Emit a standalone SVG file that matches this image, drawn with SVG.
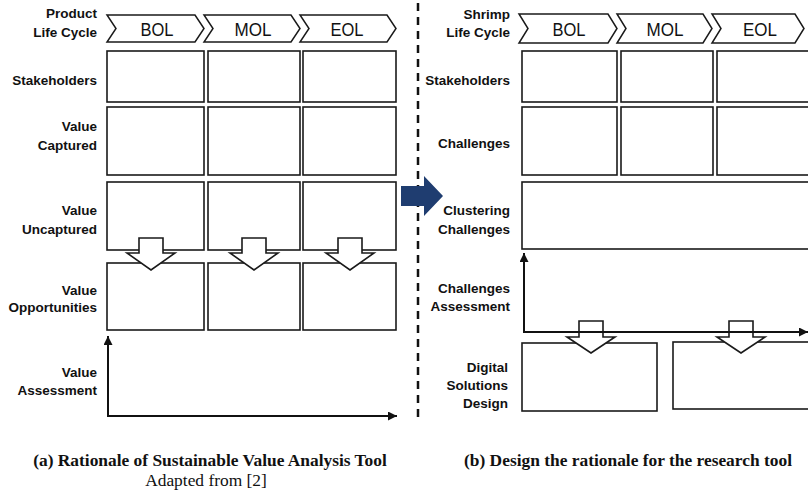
<svg xmlns="http://www.w3.org/2000/svg" width="808" height="494" viewBox="0 0 808 494">
<defs>
<style>
.bg{fill:#ffffff}
.box{fill:#ffffff;stroke:#1a1a1a;stroke-width:1.6}
.chev{fill:#ffffff;stroke:#1a1a1a;stroke-width:1.5;stroke-linejoin:miter}
.lbl{font-family:"Liberation Sans",Arial,sans-serif;font-weight:bold;font-size:13.5px;fill:#111;text-anchor:end}
.ct{font-family:"Liberation Sans",Arial,sans-serif;font-size:18.5px;fill:#111;text-anchor:middle}
.cap{font-family:"Liberation Serif","Times New Roman",serif;font-size:17.4px;fill:#111;text-anchor:middle}
.axis{stroke:#111;stroke-width:2;fill:none}
.blk{fill:#ffffff;stroke:#1a1a1a;stroke-width:1.6;stroke-linejoin:miter}
.dash{stroke:#111;stroke-width:2.5;stroke-dasharray:8 6;fill:none}
</style>
<marker id="ah" viewBox="0 0 10 10" refX="10" refY="5" markerWidth="10" markerHeight="9" orient="auto" markerUnits="userSpaceOnUse">
<path d="M0,0 L10,5 L0,10 z" fill="#111"/>
</marker>
</defs>
<rect class="bg" x="0" y="0" width="808" height="494"/>

<!-- Left panel -->
<g id="left-lifecycle">
<text class="lbl" x="97" y="18">Product</text>
<text class="lbl" x="97" y="37">Life Cycle</text>
<polygon class="chev" points="107,15 195,15 204,28.5 195,42 107,42 116,28.5"/>
<text class="ct" x="157" y="36" textLength="33" lengthAdjust="spacingAndGlyphs">BOL</text>
<polygon class="chev" points="204,15 291,15 300,28.5 291,42 204,42 213,28.5"/>
<text class="ct" x="253" y="36" textLength="37" lengthAdjust="spacingAndGlyphs">MOL</text>
<polygon class="chev" points="300,15 387,15 396,28.5 387,42 300,42 309,28.5"/>
<text class="ct" x="347" y="36" textLength="33" lengthAdjust="spacingAndGlyphs">EOL</text>
</g>
<g id="left-stakeholders">
<text class="lbl" x="97" y="85">Stakeholders</text>
<rect class="box" x="107" y="51" width="97" height="51"/>
<rect class="box" x="208" y="51" width="92" height="51"/>
<rect class="box" x="303" y="51" width="93" height="51"/>
</g>
<g id="left-value-captured">
<text class="lbl" x="97" y="131">Value</text>
<text class="lbl" x="97" y="150">Captured</text>
<rect class="box" x="107" y="107" width="97" height="68"/>
<rect class="box" x="208" y="107" width="92" height="68"/>
<rect class="box" x="303" y="107" width="93" height="68"/>
</g>
<g id="left-value-uncaptured">
<text class="lbl" x="97" y="215">Value</text>
<text class="lbl" x="97" y="234">Uncaptured</text>
<rect class="box" x="107" y="182" width="97" height="68"/>
<rect class="box" x="208" y="182" width="92" height="68"/>
<rect class="box" x="303" y="182" width="93" height="68"/>
</g>
<g id="left-value-opportunities">
<text class="lbl" x="97" y="295">Value</text>
<text class="lbl" x="97" y="312">Opportunities</text>
<rect class="box" x="107" y="263" width="97" height="67"/>
<rect class="box" x="208" y="263" width="92" height="67"/>
<rect class="box" x="303" y="263" width="93" height="67"/>
</g>
<g id="left-value-assessment">
<text class="lbl" x="97" y="377">Value</text>
<text class="lbl" x="97" y="395">Assessment</text>
</g>

<!-- Right panel -->
<g id="right-lifecycle">
<text class="lbl" x="510" y="19">Shrimp</text>
<text class="lbl" x="510" y="37">Life Cycle</text>
<polygon class="chev" points="519,14 608,14 617,28.5 608,43 519,43 528,28.5"/>
<text class="ct" x="569" y="36" textLength="33" lengthAdjust="spacingAndGlyphs">BOL</text>
<polygon class="chev" points="617,14 703,14 712,28.5 703,43 617,43 626,28.5"/>
<text class="ct" x="665" y="36" textLength="37" lengthAdjust="spacingAndGlyphs">MOL</text>
<polygon class="chev" points="712,14 795,14 804,28.5 795,43 712,43 721,28.5"/>
<text class="ct" x="760" y="36" textLength="34" lengthAdjust="spacingAndGlyphs">EOL</text>
</g>
<g id="right-stakeholders">
<text class="lbl" x="510" y="85">Stakeholders</text>
<rect class="box" x="522" y="51" width="95" height="51"/>
<rect class="box" x="621" y="51" width="92" height="51"/>
<rect class="box" x="717" y="51" width="100" height="51"/>
</g>
<g id="right-challenges">
<text class="lbl" x="510" y="148">Challenges</text>
<rect class="box" x="522" y="107" width="95" height="68"/>
<rect class="box" x="621" y="107" width="92" height="68"/>
<rect class="box" x="717" y="107" width="100" height="68"/>
</g>
<g id="right-clustering">
<text class="lbl" x="510" y="215">Clustering</text>
<text class="lbl" x="510" y="234">Challenges</text>
<rect class="box" x="522" y="182" width="295" height="67"/>
</g>
<g id="right-assessment">
<text class="lbl" x="510" y="293">Challenges</text>
<text class="lbl" x="510" y="311">Assessment</text>
</g>
<g id="right-digital">
<text class="lbl" x="508" y="372">Digital</text>
<text class="lbl" x="508" y="390">Solutions</text>
<text class="lbl" x="508" y="408">Design</text>
<rect class="box" x="522" y="343" width="135" height="68"/>
<rect class="box" x="673" y="342" width="144" height="67"/>
</g>

<!-- Connectors -->
<g id="connectors">
<line class="dash" x1="418" y1="3" x2="418" y2="418"/>
<polygon fill="#1f3d70" points="401,186 424,186 424,176 443,196 424,216 424,206 401,206"/>
<polygon class="blk" points="139,238 163,238 163,253 175,253 151,270 127,253 139,253"/>
<polygon class="blk" points="242,238 266,238 266,253 278,253 254,270 230,253 242,253"/>
<polygon class="blk" points="338,238 362,238 362,253 374,253 350,270 326,253 338,253"/>
<line class="axis" x1="108" y1="417" x2="108" y2="336" marker-end="url(#ah)"/>
<line class="axis" x1="107" y1="416" x2="397" y2="416" marker-end="url(#ah)"/>
<polygon class="blk" points="579,321 603,321 603,337 615,337 591,353 567,337 579,337"/>
<polygon class="blk" points="729,321 753,321 753,337 765,337 741,353 717,337 729,337"/>
<line class="axis" x1="524" y1="333" x2="524" y2="253" marker-end="url(#ah)"/>
<line class="axis" x1="523" y1="332" x2="808" y2="332" marker-end="url(#ah)"/>
</g>

<!-- Captions -->
<g id="captions">
<text class="cap" x="210" y="466" font-weight="bold">(a) Rationale of Sustainable Value Analysis Tool</text>
<text class="cap" x="206" y="486" font-size="16px">Adapted from [2]</text>
<text class="cap" x="628" y="466" font-weight="bold">(b) Design the rationale for the research tool</text>
</g>
</svg>
